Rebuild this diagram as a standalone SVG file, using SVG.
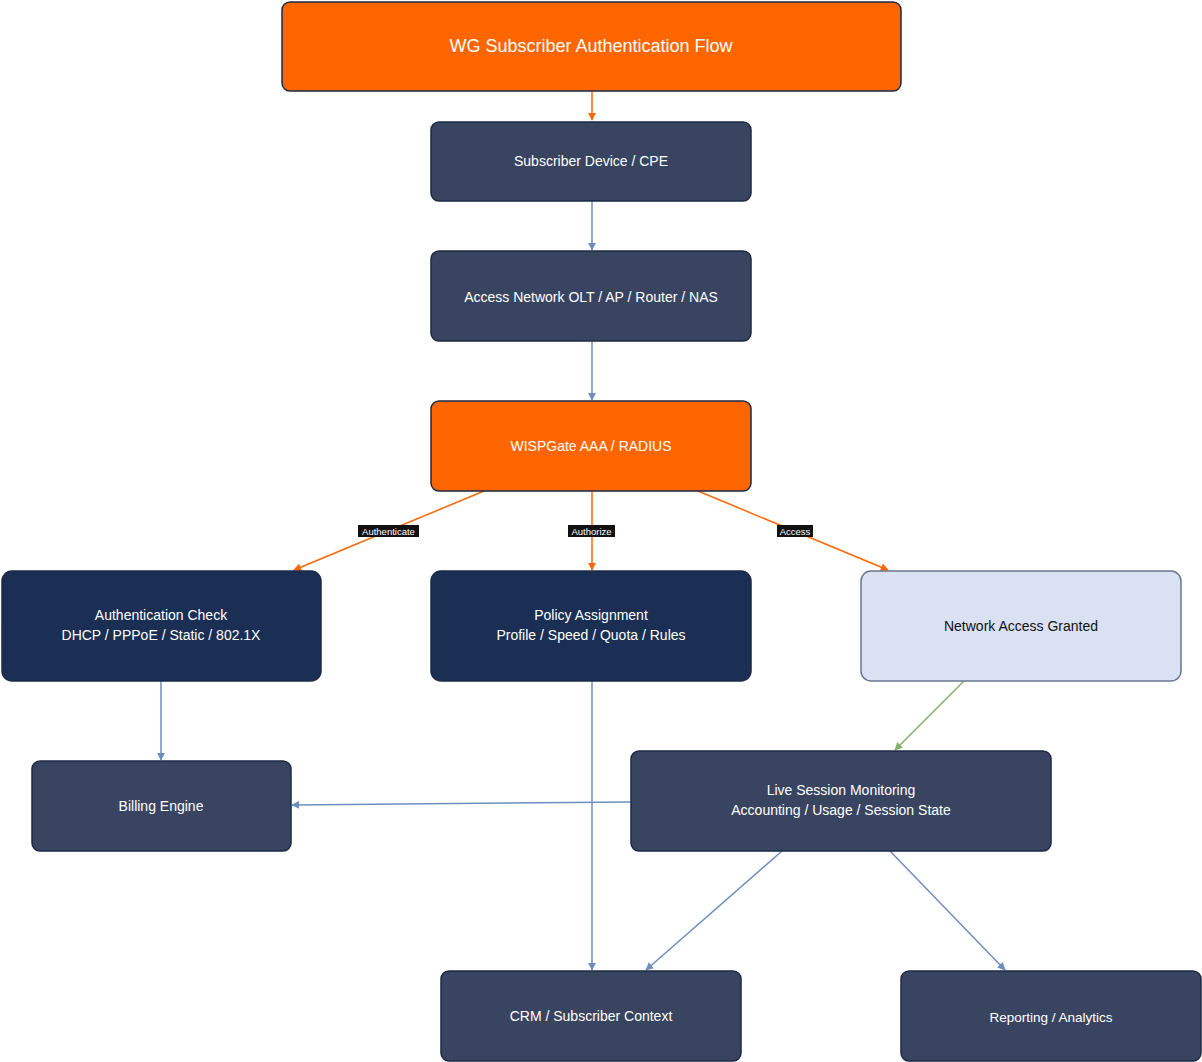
<svg xmlns="http://www.w3.org/2000/svg" width="1202" height="1062" viewBox="0 0 1202 1062">
<style>
text{font-family:"Liberation Sans",Arial,sans-serif;text-anchor:middle;dominant-baseline:central}
.n text{fill:#fff;font-size:14px}
.d rect{fill:#394560;stroke:#1d2a44;stroke-width:1.5}
.o rect{fill:#ff6600;stroke:#1d2a44;stroke-width:1.5}
.p rect{fill:#1b2e53;stroke:#1d2a44;stroke-width:1.5}
.e path{fill:none;stroke-width:1.5}
.b{stroke:#6c8ebf}.or{stroke:#ff6600}.g{stroke:#82b366}
.lb{fill:#111;}
.lt{fill:#fff;font-size:9.5px}
</style>
<defs>
<marker id="ab" viewBox="0 0 10 10" refX="9" refY="5" markerWidth="8" markerHeight="8" orient="auto" markerUnits="userSpaceOnUse"><path d="M0,0L10,5L0,10z" fill="#6c8ebf"/></marker>
<marker id="ao" viewBox="0 0 10 10" refX="9" refY="5" markerWidth="8" markerHeight="8" orient="auto" markerUnits="userSpaceOnUse"><path d="M0,0L10,5L0,10z" fill="#ff6600"/></marker>
<marker id="ag" viewBox="0 0 10 10" refX="9" refY="5" markerWidth="8" markerHeight="8" orient="auto" markerUnits="userSpaceOnUse"><path d="M0,0L10,5L0,10z" fill="#82b366"/></marker>
</defs>
<g id="edges" class="e">
<path class="or" d="M592,91V120" marker-end="url(#ao)"/>
<path class="b" d="M592,201V250" marker-end="url(#ab)"/>
<path class="b" d="M592,341V400" marker-end="url(#ab)"/>
<path class="or" d="M484,491L294,570" marker-end="url(#ao)"/>
<path class="or" d="M592,491V570" marker-end="url(#ao)"/>
<path class="or" d="M698,491L888,570" marker-end="url(#ao)"/>
<path class="b" d="M161,681V760" marker-end="url(#ab)"/>
<path class="b" d="M592,681V970" marker-end="url(#ab)"/>
<path class="g" d="M964,681L895,750" marker-end="url(#ag)"/>
<path class="b" d="M631,802L292,805" marker-end="url(#ab)"/>
<path class="b" d="M782,851L646,970" marker-end="url(#ab)"/>
<path class="b" d="M890,851L1005,970" marker-end="url(#ab)"/>
<rect class="lb" x="358" y="525" width="61" height="12"/><text class="lt" x="388.5" y="531">Authenticate</text>
<rect class="lb" x="568" y="525" width="47" height="12"/><text class="lt" x="591.5" y="531">Authorize</text>
<rect class="lb" x="777" y="525" width="36" height="12"/><text class="lt" x="795" y="531">Access</text>
</g>
<g id="title" class="n o"><rect x="282" y="2" width="619" height="89" rx="8"/><text x="591" y="46" style="font-size:18px">WG Subscriber Authentication Flow</text></g>
<g id="device" class="n d"><rect x="431" y="122" width="320" height="79" rx="8"/><text x="591" y="161">Subscriber Device / CPE</text></g>
<g id="access" class="n d"><rect x="431" y="251" width="320" height="90" rx="8"/><text x="591" y="297">Access Network OLT / AP / Router / NAS</text></g>
<g id="wisp" class="n o"><rect x="431" y="401" width="320" height="90" rx="8"/><text x="591" y="446">WISPGate AAA / RADIUS</text></g>
<g id="auth" class="n p"><rect x="2" y="571" width="319" height="110" rx="10"/><text x="161" y="615">Authentication Check</text><text x="161" y="635">DHCP / PPPoE / Static / 802.1X</text></g>
<g id="policy" class="n p"><rect x="431" y="571" width="320" height="110" rx="10"/><text x="591" y="615">Policy Assignment</text><text x="591" y="635">Profile / Speed / Quota / Rules</text></g>
<g id="granted"><rect x="861" y="571" width="320" height="110" rx="10" fill="#dae1f3" stroke="#6b7690" stroke-width="1.5"/><text x="1021" y="626" style="font-size:14px;fill:#111">Network Access Granted</text></g>
<g id="billing" class="n d"><rect x="32" y="761" width="259" height="90" rx="8"/><text x="161" y="806">Billing Engine</text></g>
<g id="live" class="n d"><rect x="631" y="751" width="420" height="100" rx="8"/><text x="841" y="790">Live Session Monitoring</text><text x="841" y="810">Accounting / Usage / Session State</text></g>
<g id="crm" class="n d"><rect x="441" y="971" width="300" height="90" rx="8"/><text x="591" y="1016">CRM / Subscriber Context</text></g>
<g id="report" class="n d"><rect x="901" y="971" width="300" height="90" rx="8"/><text x="1051" y="1017" style="font-size:13.5px">Reporting / Analytics</text></g>
</svg>
